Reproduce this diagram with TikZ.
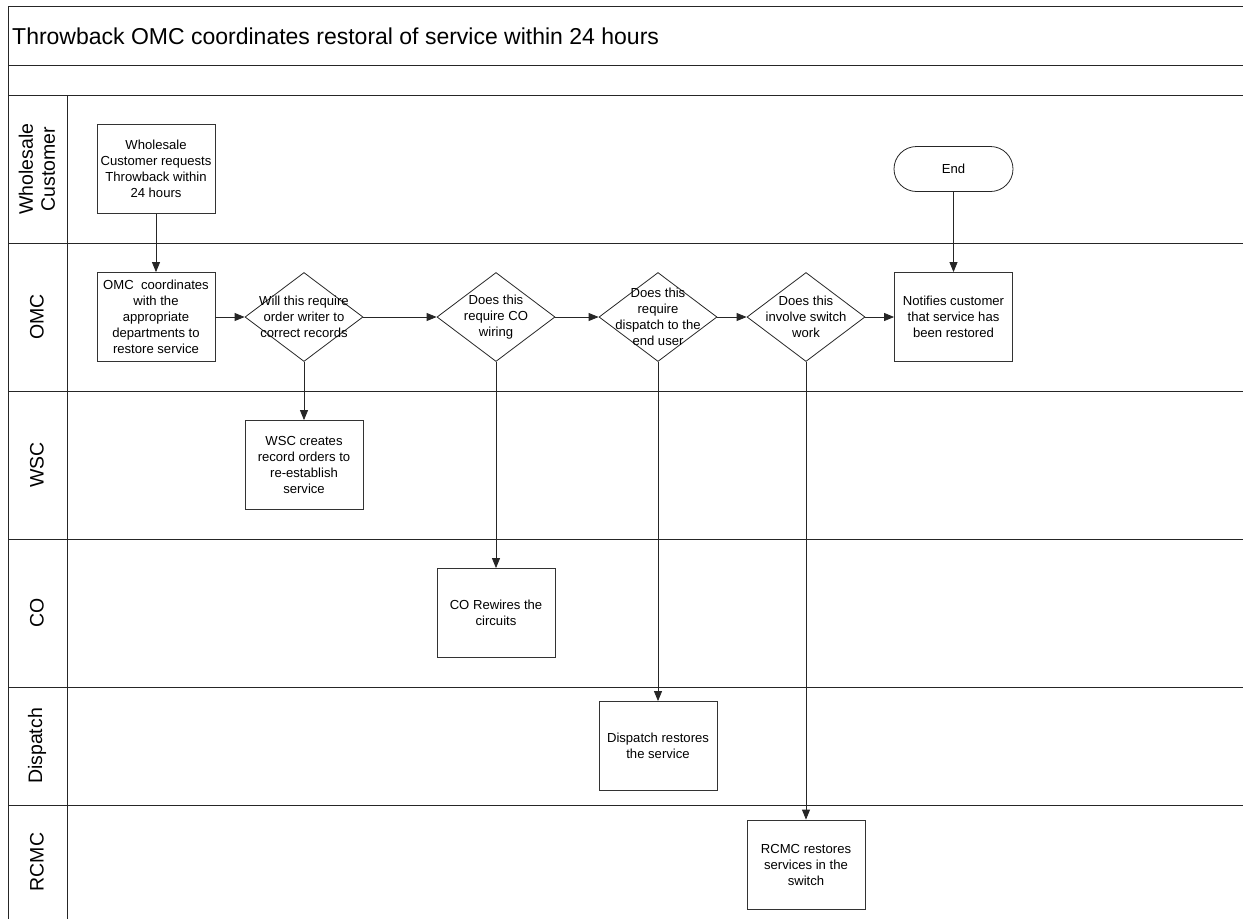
\documentclass[tikz,border=0pt]{standalone}
\usepackage{fontspec}
\setmainfont{Liberation Sans}
\usetikzlibrary{shapes.geometric,arrows.meta}
\begin{document}
\begin{tikzpicture}[x=1pt,y=-1pt,
  laneline/.style={draw=black!85,line width=0.9pt},
  lanelabel/.style={rotate=90,align=center,font=\fontsize{19.5}{22}\selectfont,inner sep=0pt},
  stepbox/.style={draw=black!80,line width=0.8pt,minimum width=118pt,minimum height=89pt,inner sep=1pt,align=center,font=\fontsize{13.1}{16}\selectfont},
  decision/.style={draw=black!85,line width=0.8pt,diamond,minimum width=118pt,minimum height=89pt,inner sep=0pt},
  dtext/.style={align=center,font=\fontsize{13.1}{16}\selectfont,inner sep=0pt},
  term/.style={draw=black!85,line width=0.8pt,rounded corners=22.5pt,minimum width=119pt,minimum height=45pt,font=\fontsize{13.1}{15}\selectfont},
  arr/.style={draw=black!85,line width=0.8pt,-{Triangle[length=10pt,width=8pt]}}
]
\useasboundingbox (0,0) rectangle (1243,919);
% frame
\draw[laneline] (1243,6) -- (8,6) -- (8,919);
\draw[laneline] (8,65) -- (1243,65);
\draw[laneline] (8,95) -- (1243,95);
\foreach \yy in {243,391,539,687,805} \draw[laneline] (8,\yy) -- (1243,\yy);
\draw[laneline] (67,95) -- (67,919);
% title
\node[anchor=west,font=\fontsize{23}{26}\selectfont,inner sep=0pt] (title) at (12,36) {Throwback OMC coordinates restoral of service within 24 hours};
% lane labels
\node[lanelabel] (lwc) at (37,169) {Wholesale\\Customer};
\node[lanelabel] (lomc) at (37,317) {OMC};
\node[lanelabel] (lwsc) at (37,465) {WSC};
\node[lanelabel] (lco) at (37,613) {CO};
\node[lanelabel] (ldis) at (37,746) {Dispatch};
\node[lanelabel] (lrcmc) at (37,862) {RCMC};
% nodes
\node[stepbox] (wc) at (156,169) {Wholesale\\Customer requests\\Throwback within\\24 hours};
\node[stepbox] (omc) at (156,317) {OMC~ coordinates\\with the\\appropriate\\departments to\\restore service};
\node[decision] (d1) at (304,317) {};
\node[dtext] at (d1.center) {Will this require\\order writer to\\correct records};
\node[decision] (d2) at (496,317) {};
\node[dtext] at (d2.center) {Does this\\require CO\\wiring};
\node[decision] (d3) at (658,317) {};
\node[dtext] at (d3.center) {Does this\\require\\dispatch to the\\end user};
\node[decision] (d4) at (806,317) {};
\node[dtext] at (d4.center) {Does this\\involve switch\\work};
\node[stepbox] (notify) at (953.5,317) {Notifies customer\\that service has\\been restored};
\node[term] (end) at (953.5,169) {End};
\node[stepbox] (wsc) at (304,465) {WSC creates\\record orders to\\re-establish\\service};
\node[stepbox] (co) at (496,613) {CO Rewires the\\circuits};
\node[stepbox] (dis) at (658,746) {Dispatch restores\\the service};
\node[stepbox] (rcmc) at (806,864.5) {RCMC restores\\services in the\\switch};
% connectors
\draw[arr] (wc) -- (omc);
\draw[arr] (omc) -- (d1);
\draw[arr] (d1) -- (d2);
\draw[arr] (d2) -- (d3);
\draw[arr] (d3) -- (d4);
\draw[arr] (d4) -- (notify);
\draw[arr] (end) -- (notify);
\draw[arr] (d1) -- (wsc);
\draw[arr] (d2) -- (co);
\draw[arr] (d3) -- (dis);
\draw[arr] (d4) -- (rcmc);
\end{tikzpicture}
\end{document}
